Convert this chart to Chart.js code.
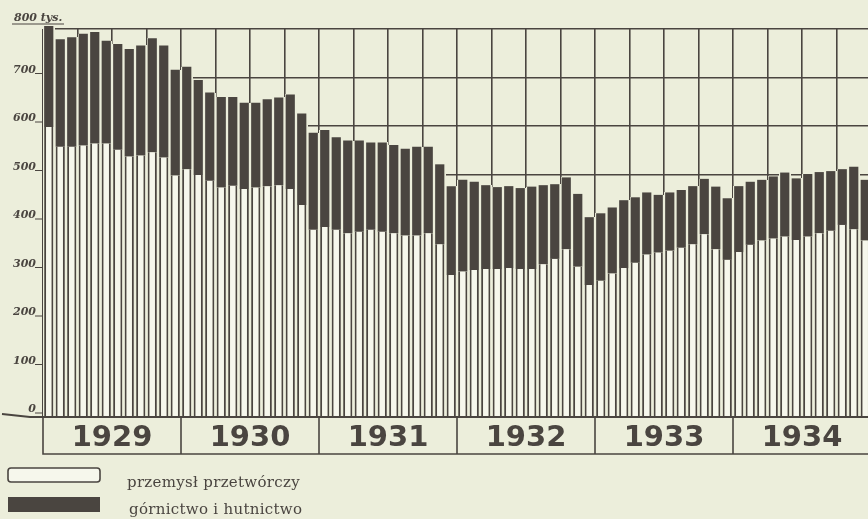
<!DOCTYPE html>
<html>
<head>
<meta charset="utf-8">
<script src="https://cdn.jsdelivr.net/npm/chart.js@4.4.0/dist/chart.umd.min.js"></script>
<style>
  html, body { margin: 0; padding: 0; overflow: hidden; background: #eceedb; }
  #wrap { width: 872px; height: 519px; }
</style>
</head>
<body>
<div id="wrap"><canvas id="zatrudnienie" width="872" height="519"></canvas></div>
<script>
// lata i miesiace
const years = ["1929", "1930", "1931", "1932", "1933", "1934"];
const months = [];
years.forEach(function (y) {
  for (let m = 1; m <= 12; m++) months.push(y + "-" + (m < 10 ? "0" + m : m));
});

// tys. zatrudnionych
const przetworczy = [
  598, 557, 557, 560, 564, 564, 551, 537, 539, 546, 535, 498,
  511, 499, 487, 473, 477, 470, 473, 476, 478, 470, 437, 386,
  392, 386, 379, 382, 386, 382, 379, 374, 374, 379, 356, 293,
  300, 303, 305, 305, 307, 305, 305, 315, 326, 346, 310, 272,
  281, 296, 307, 318, 335, 339, 343, 349, 356, 377, 346, 324,
  340, 355, 364, 368, 372, 365, 372, 379, 384, 396, 387, 364
];
const gornictwo = [
  208, 222, 226, 230, 230, 212, 218, 222, 227, 235, 231, 218,
  211, 196, 182, 187, 183, 178, 175, 179, 181, 195, 189, 200,
  200, 191, 191, 188, 180, 184, 182, 179, 183, 178, 165, 183,
  189, 182, 173, 169, 169, 167, 170, 163, 154, 148, 150, 140,
  139, 136, 140, 135, 128, 119, 120, 119, 120, 114, 129, 127,
  136, 130, 125, 128, 132, 127, 129, 126, 123, 115, 129, 125
];

const yTicks = [0, 100, 200, 300, 400, 500, 600, 700];
const topLabel = "800 tys.";

const ink = "#4a4540";
const paper = "#f6f7ec";

// siatka tylko nad slupkami (pod slupkami czysty papier)
const clearUnderBars = {
  id: "clearUnderBars",
  beforeDatasetsDraw(chart) {
    const xs = chart.scales.x;
    const y0 = chart.scales.y.getPixelForValue(0);
    const step = xs.getPixelForValue(1) - xs.getPixelForValue(0);
    chart.getDatasetMeta(1).data.forEach(function (el) {
      chart.ctx.clearRect(el.x - step / 2, el.y, step, y0 - el.y);
    });
  }
};

const decor = {
  id: "decor",
  afterDraw(chart) {
    const c = chart.ctx;
    const xs = chart.scales.x;
    const ys = chart.scales.y;
    const step = xs.getPixelForValue(1) - xs.getPixelForValue(0);
    const y0 = ys.getPixelForValue(0);
    c.save();
    c.strokeStyle = ink;
    c.fillStyle = ink;

    // podpisy osi Y
    c.font = "italic bold 11px 'DejaVu Serif'";
    c.textAlign = "right";
    c.textBaseline = "alphabetic";
    c.lineWidth = 1;
    yTicks.forEach(function (v) {
      const py = ys.getPixelForValue(v) - 5;
      c.fillText(String(v), 36, py);
      c.beginPath();
      c.moveTo(35, py + 1);
      c.lineTo(42, py + 1);
      c.stroke();
    });
    const ty = ys.getPixelForValue(800);
    c.textAlign = "left";
    c.fillText(topLabel, 14, ty - 8);
    c.beginPath();
    c.moveTo(12, ty - 5);
    c.lineTo(64, ty - 5);
    c.stroke();

    // linia zerowa
    c.lineWidth = 2;
    c.beginPath();
    c.moveTo(2, y0 - 3);
    c.lineTo(30, y0);
    c.lineTo(chart.width, y0);
    c.stroke();

    // ramka z latami
    const left = xs.getPixelForValue(0) - step / 2;
    const boxTop = y0 + 1;
    const boxBot = 454;
    c.lineWidth = 1.6;
    c.beginPath();
    c.moveTo(left, boxTop);
    c.lineTo(left, boxBot);
    c.lineTo(chart.width, boxBot);
    c.stroke();
    c.font = "bold 29px 'DejaVu Sans'";
    c.textAlign = "center";
    c.textBaseline = "middle";
    years.forEach(function (y, i) {
      const a = xs.getPixelForValue(i * 12) - step / 2;
      const b = xs.getPixelForValue(i * 12 + 11) + step / 2;
      if (i > 0) {
        c.beginPath();
        c.moveTo(a, boxTop);
        c.lineTo(a, boxBot);
        c.stroke();
      }
      c.fillText(y, (a + b) / 2, 438);
    });

    // legenda
    c.lineWidth = 1.6;
    c.fillStyle = paper;
    c.beginPath();
    c.roundRect(8, 468, 92, 14, 3);
    c.fill();
    c.stroke();
    c.fillStyle = ink;
    c.fillRect(8, 497, 92, 15);
    c.font = "15px 'DejaVu Serif'";
    c.letterSpacing = "0.3px";
    c.textAlign = "left";
    c.textBaseline = "alphabetic";
    c.fillText(chart.data.datasets[0].label, 127, 487);
    c.fillText(chart.data.datasets[1].label, 129, 514);
    c.restore();
  }
};

new Chart(document.getElementById("zatrudnienie"), {
  type: "bar",
  data: {
    labels: months,
    datasets: [
      {
        label: "przemysł przetwórczy",
        data: przetworczy,
        backgroundColor: paper,
        borderColor: ink,
        borderWidth: { left: 2, right: 2, top: 0, bottom: 0 },
        borderSkipped: false
      },
      {
        label: "górnictwo i hutnictwo",
        data: gornictwo,
        backgroundColor: ink,
        borderWidth: 0,
        clip: false
      }
    ]
  },
  options: {
    responsive: false,
    animation: false,
    layout: { padding: { left: 43, top: 29, right: 1, bottom: 102 } },
    barPercentage: 0.8,
    categoryPercentage: 1,
    plugins: {
      legend: { display: false },
      tooltip: { enabled: false }
    },
    scales: {
      x: {
        stacked: true,
        border: { display: false },
        ticks: { display: false, autoSkip: false },
        grid: {
          offset: true,
          drawTicks: false,
          lineWidth: 1.6,
          color: function (ctx) {
            return ctx.index % 3 === 0 ? ink : "rgba(0,0,0,0)";
          }
        }
      },
      y: {
        stacked: true,
        min: 0,
        max: 800,
        border: { display: false },
        ticks: { display: false, stepSize: 100 },
        grid: { drawTicks: false, lineWidth: 1.6, color: ink }
      }
    }
  },
  plugins: [clearUnderBars, decor]
});
</script>
</body>
</html>
